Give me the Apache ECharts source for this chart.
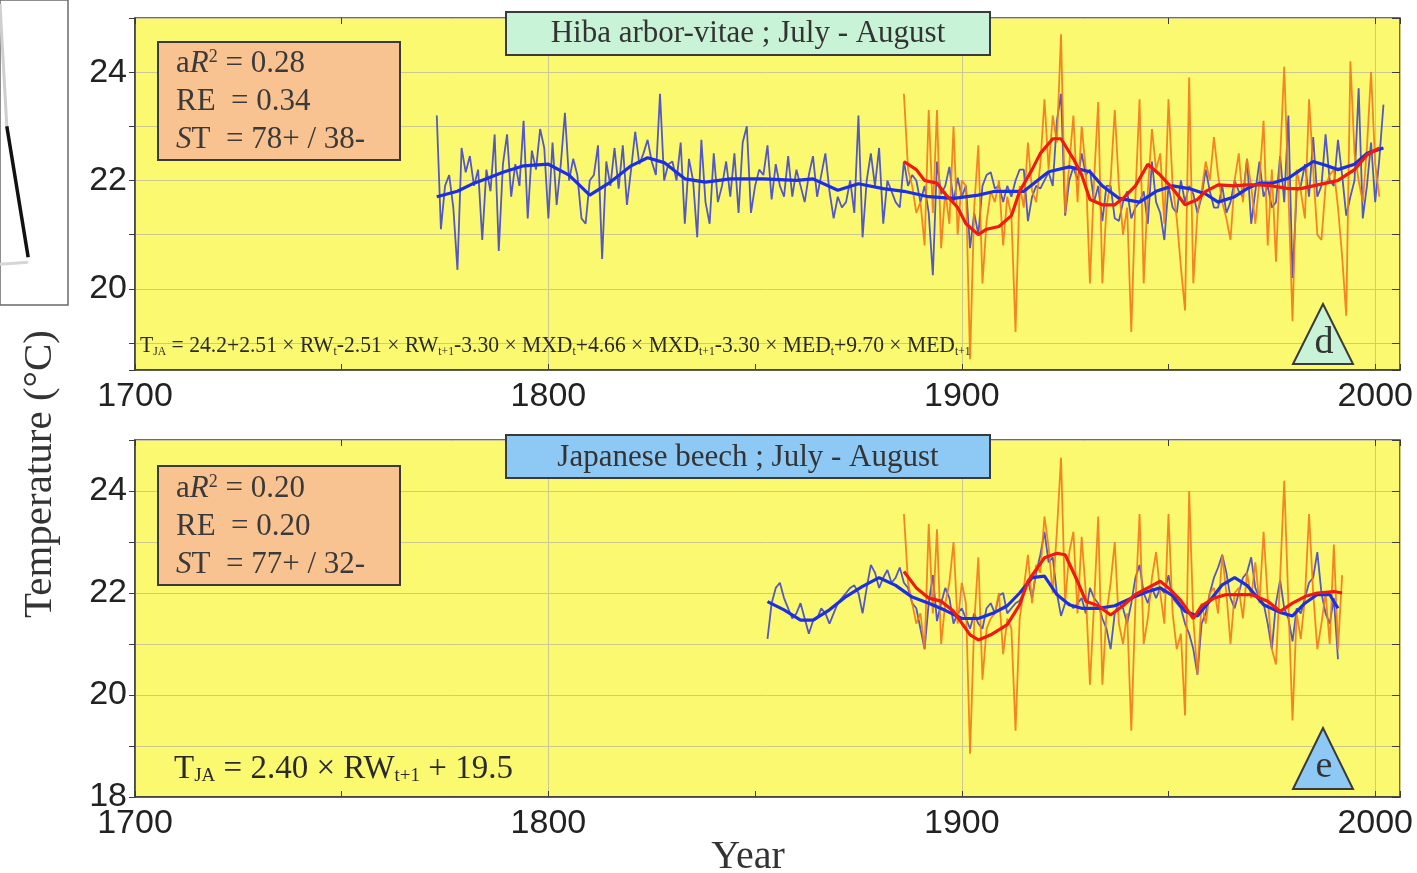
<!DOCTYPE html>
<html><head><meta charset="utf-8">
<script src="https://cdn.jsdelivr.net/npm/echarts@6/dist/echarts.min.js"></script>
<style>html,body{margin:0;padding:0;background:#fff;}#c{width:1417px;height:873px;}</style>
</head><body><div id="c"></div>
<script>
// ---------- DATA ----------
const xTickLabels = [1700, 1800, 1900, 2000];
const yTickLabelsTop = [20, 22, 24];
const yTickLabelsBottom = [18, 20, 22, 24];

// Panel d: Hiba arbor-vitae (reconstruction, annual)
const topBlueStart = 1773;
const topBlue = [
 23.2,21.1,21.9,22.1,21.5,20.35,22.6,22.15,22.45,21.9,
 22.2,20.9,22.2,21.8,22.85,20.7,22.3,22.85,21.7,22.3,
 21.9,23.1,21.3,22.55,22.2,22.95,22.6,21.3,22.7,21.55,
 22.3,23.25,22.0,22.4,22.1,21.3,21.2,22.0,22.1,22.65,
 20.55,22.35,21.9,22.6,21.85,22.65,21.55,22.2,22.9,22.3,
 22.5,22.75,22.35,22.1,23.6,22.0,22.3,22.35,22.0,22.7,
 21.2,22.4,22.0,20.95,22.75,21.6,21.2,22.5,21.6,21.9,
 22.35,21.7,22.5,21.4,22.7,23.0,21.4,21.9,22.2,22.1,
 22.65,21.65,22.3,21.9,21.7,22.45,21.7,22.2,21.9,21.6,
 22.1,22.45,21.7,22.1,22.5,21.8,21.3,21.7,21.5,21.6,
 22.0,21.4,23.2,20.95,22.0,22.5,21.9,22.6,21.2,22.0,
 21.8,21.6,21.5,22.35,21.9,22.1,22.0,21.6,21.9,21.4,
 20.25,22.35,21.75,21.9,22.25,21.6,22.05,21.7,21.9,20.75,
 21.4,21.0,21.9,22.1,22.15,21.85,21.9,21.6,21.9,21.7,
 22.0,22.2,22.2,21.25,21.7,21.9,21.85,22.0,22.15,21.9,
 23.1,23.6,21.35,22.0,22.25,22.0,22.5,22.1,22.2,21.6,
 21.9,21.25,21.9,21.9,21.3,21.25,21.6,21.8,21.3,21.5,
 21.6,21.8,21.2,22.35,21.6,21.4,20.9,21.9,21.5,21.4,
 22.0,21.6,21.9,21.75,21.4,21.7,22.2,21.8,21.5,21.5,
 21.9,21.4,21.6,22.0,21.8,21.7,22.4,21.2,21.8,22.35,
 21.7,21.9,21.5,21.6,22.45,21.6,23.2,20.2,21.8,21.9,
 22.3,21.7,22.8,21.7,21.9,22.85,22.0,21.9,22.75,22.1,
 21.35,21.7,22.0,23.7,21.3,21.9,22.7,21.6,22.4,23.4
];
// Panel d: observed July-August temperature (annual)
const topOrangeStart = 1886;
const topOrange = [
 23.6,22.2,21.9,21.4,21.6,20.8,23.3,21.4,23.3,20.75,
 21.8,21.2,23.0,21.0,22.0,21.9,18.7,21.5,22.65,20.1,
 21.25,21.8,21.6,22.0,20.8,21.7,21.35,19.2,21.9,21.5,
 22.7,21.8,21.6,22.3,23.5,22.2,23.2,22.7,24.7,21.4,
 22.3,23.2,21.6,23.0,22.2,20.1,22.0,23.45,20.1,21.5,
 22.0,23.3,21.9,21.0,21.5,19.2,21.7,23.5,20.1,21.8,
 22.95,22.2,22.5,21.2,23.5,21.9,21.3,20.4,19.6,23.9,
 20.1,21.4,21.8,22.35,22.0,22.8,22.1,21.6,21.3,20.9,
 22.0,22.5,21.6,22.4,21.9,21.2,22.0,23.1,20.8,22.2,
 20.5,22.4,24.1,21.8,19.4,22.2,21.8,21.3,23.5,22.2,
 21.0,20.9,21.9,22.1,22.2,21.5,20.6,19.5,24.2,22.5,
 22.0,21.6,22.6,24.0,22.3,21.7
];
// Panel d: smoothed curves
const topBlueSmoothYears = [1773,1778,1782,1785,1789,1794,1800,1805,1810,1815,1820,1824,1828,1833,1838,1844,1852,1860,1864,1870,1875,1881,1886,1892,1898,1904,1908,1915,1918,1921,1926,1931,1934,1938,1943,1947,1951,1955,1959,1962,1966,1969,1972,1975,1979,1982,1985,1988,1991,1995,1998,2002];
const topBlueSmooth = [21.7,21.8,21.95,22.03,22.15,22.27,22.3,22.1,21.73,21.97,22.27,22.42,22.33,22.03,21.97,22.03,22.03,22.0,22.03,21.82,21.94,21.85,21.8,21.7,21.67,21.73,21.8,21.8,21.98,22.16,22.25,22.16,21.9,21.67,21.6,21.8,21.9,21.85,21.75,21.6,21.7,21.85,21.95,21.95,22.04,22.2,22.35,22.28,22.2,22.3,22.5,22.6];
const topRedSmoothYears = [1886,1889,1891,1894,1896,1899,1901,1904,1906,1909,1912,1914,1917,1919,1922,1924,1927,1929,1931,1934,1937,1939,1942,1945,1948,1951,1954,1957,1959,1962,1966,1969,1972,1975,1979,1982,1985,1988,1991,1995,1998,2001];
const topRedSmooth = [22.35,22.2,22.0,21.95,21.75,21.5,21.2,21.0,21.1,21.15,21.35,21.8,22.2,22.5,22.77,22.77,22.4,22.1,21.65,21.55,21.55,21.67,21.9,22.3,22.1,21.85,21.55,21.65,21.8,21.92,21.9,21.92,21.92,21.9,21.85,21.85,21.9,21.95,22.0,22.2,22.47,22.6];

// Panel e: Japanese beech (reconstruction, annual)
const bottomBlueStart = 1853;
const bottomBlue = [
 21.1,21.8,22.1,22.2,21.9,21.7,21.5,21.6,21.8,21.5,
 21.2,21.45,21.5,21.7,21.6,21.4,21.6,21.8,21.9,22.0,
 22.1,22.15,22.0,21.6,22.1,22.55,22.4,22.1,22.3,22.45,
 22.2,22.3,22.5,22.2,22.1,21.8,21.7,21.3,20.9,21.8,
 22.35,21.45,21.8,22.1,21.9,21.4,21.6,21.7,21.5,21.3,
 21.6,21.4,21.3,21.7,21.8,21.6,21.95,22.0,21.6,21.7,
 21.8,21.85,22.0,22.25,21.9,22.4,22.75,23.2,22.6,22.7,
 22.0,21.55,21.8,21.8,21.7,21.8,21.9,21.6,22.1,21.9,
 21.8,21.5,21.3,20.9,21.6,21.8,21.7,21.4,21.8,22.3,
 22.55,22.0,21.8,22.1,21.9,22.1,22.0,22.35,21.9,21.8,
 21.7,21.4,21.2,20.9,20.4,21.4,21.6,22.0,22.3,22.5,
 22.75,22.4,21.9,21.7,22.0,22.3,22.4,22.7,22.1,21.9,
 21.8,21.4,20.9,21.8,22.25,21.7,21.5,21.05,21.7,21.6,
 21.9,22.2,22.3,22.8,22.0,21.6,21.4,21.9,20.7
];
// Panel e: observed (annual)
const bottomOrangeStart = 1886;
const bottomOrange = [
 23.55,22.2,21.8,21.4,21.6,20.9,23.35,21.6,23.25,21.0,
 21.8,22.2,23.0,21.4,22.2,21.8,18.85,21.4,22.7,20.3,
 21.3,21.5,21.6,22.0,20.8,21.5,21.3,19.3,21.5,22.1,
 22.75,21.8,22.55,22.4,23.5,22.9,22.0,23.2,24.65,21.8,
 22.8,23.2,21.6,23.1,22.0,20.2,21.8,23.5,20.2,21.6,
 22.2,23.0,21.4,21.0,21.6,19.3,21.8,23.55,21.0,21.5,
 22.3,22.8,22.0,21.4,23.55,21.6,20.9,21.2,19.6,24.0,
 21.5,20.4,21.8,21.4,22.0,22.1,21.6,22.75,22.0,21.0,
 22.0,22.1,21.5,22.4,21.9,22.6,21.8,23.2,21.9,20.9,
 20.6,22.3,24.2,21.8,19.5,21.6,21.1,21.9,23.55,22.0,
 20.9,21.4,22.0,21.0,22.95,20.9,22.35
];
const bottomBlueSmoothYears = [1853,1857,1861,1864,1868,1872,1876,1880,1884,1888,1892,1896,1900,1904,1908,1911,1914,1917,1920,1923,1926,1929,1933,1937,1941,1945,1948,1951,1954,1957,1960,1963,1966,1969,1973,1977,1980,1983,1986,1989,1991];
const bottomBlueSmooth = [21.83,21.67,21.47,21.47,21.67,21.93,22.13,22.3,22.15,21.92,21.8,21.66,21.5,21.5,21.62,21.75,22.0,22.3,22.33,21.97,21.77,21.7,21.7,21.75,21.9,22.03,22.1,21.95,21.64,21.55,21.85,22.16,22.3,22.15,21.77,21.62,21.55,21.8,21.97,21.97,21.7];
const bottomRedSmoothYears = [1886,1889,1892,1895,1898,1902,1904,1907,1911,1914,1916,1920,1923,1925,1928,1930,1933,1936,1939,1942,1945,1948,1950,1953,1956,1958,1961,1964,1967,1970,1974,1977,1980,1983,1986,1990,1992];
const bottomRedSmooth = [22.42,22.1,21.9,21.84,21.64,21.18,21.08,21.18,21.38,21.77,22.23,22.69,22.78,22.75,22.23,21.84,21.75,21.57,21.75,21.97,22.1,22.23,22.1,21.85,21.5,21.75,21.9,21.97,21.97,21.97,21.84,21.64,21.8,21.93,22.0,22.03,22.0];

// Cropped neighbouring panel at the far left (fragment)
const fragBlack = [[7,127],[29,259]];
const fragGreyA = [[0,4],[7,127]];
const fragGreyB = [[0,266],[29,264]];

// ---------- BUILD ----------
const annual = (start, arr) => arr.map((v, i) => [start + i, v]);
const zip = (ys, vs) => ys.map((y, i) => [y, vs[i]]);

const YELLOW = '#fbf96f', GRIDC = '#cbc98f', AX = '#3c3c3c';
const BLUE_T = '#5358c4', BLUE_S = '#1d2fe4', ORANGE = '#f2791a', RED = '#f01a12';
const SANS = 'Liberation Sans, Arial, sans-serif';
const SERIF = 'Liberation Serif, Times New Roman, serif';

const isTick = (list, v) => list.some(t => Math.abs(t - v) < 1e-9);

function xMain(gi) {
  return {
    type: 'value', gridIndex: gi, min: 1700, max: 2006, interval: 100,
    axisLine: { show: true, onZero: false, lineStyle: { color: AX, width: 1.5 } },
    axisTick: { show: true, inside: true, length: 6, lineStyle: { color: AX } },
    minorTick: { show: true, splitNumber: 2, length: 6, lineStyle: { color: AX } },
    splitLine: { show: true, lineStyle: { color: GRIDC, width: 1 } },
    axisLabel: { fontSize: 34, fontFamily: SANS, color: '#222', margin: 10,
      formatter: v => isTick(xTickLabels, v) ? String(v) : '' }
  };
}
function xTop(gi) {
  return {
    type: 'value', gridIndex: gi, position: 'top', min: 1700, max: 2006, interval: 100,
    axisLine: { show: false }, splitLine: { show: false }, axisLabel: { show: false },
    axisTick: { show: true, inside: true, length: 6, lineStyle: { color: AX } },
    minorTick: { show: true, splitNumber: 2, length: 6, lineStyle: { color: AX } }
  };
}
function yLeft(gi, min, max, labels, useInterval) {
  const o = {
    type: 'value', gridIndex: gi, min: min, max: max,
    axisLine: { show: true, onZero: false, lineStyle: { color: AX, width: 1.5 } },
    axisTick: { show: true, inside: false, length: 6, lineStyle: { color: AX } },
    splitLine: { show: true, lineStyle: { color: GRIDC, width: 1 } },
    axisLabel: { fontSize: 34, fontFamily: SANS, color: '#222', margin: 8,
      formatter: v => isTick(labels, v) ? String(v) : '' }
  };
  if (useInterval) o.interval = 1; else { o.splitNumber = 6; o.minInterval = 1; o.maxInterval = 1; }
  return o;
}
function yRight(gi, min, max, useInterval) {
  const o = {
    type: 'value', gridIndex: gi, position: 'right', min: min, max: max,
    axisLine: { show: false }, splitLine: { show: false }, axisLabel: { show: false },
    axisTick: { show: true, inside: true, length: 8, lineStyle: { color: AX } }
  };
  if (useInterval) o.interval = 1; else { o.splitNumber = 6; o.minInterval = 1; o.maxInterval = 1; }
  return o;
}

function line(xi, yi, data, color, width, z, opacity) {
  return { type: 'line', xAxisIndex: xi, yAxisIndex: yi, data: data, showSymbol: false, symbol: 'none',
    lineStyle: { color: color, width: width, opacity: opacity == null ? 1 : opacity },
    itemStyle: { color: color }, z: z, silent: true, animation: false, clip: true };
}

function box(x, y, w, h, fill) {
  return { type: 'rect', shape: { x: x, y: y, width: w, height: h }, z: 50,
    style: { fill: fill, stroke: '#3a3a3a', lineWidth: 2 } };
}
function txt(x, y, text, rich, extra) {
  return Object.assign({ type: 'text', x: x, y: y, z: 60,
    style: { text: text, rich: rich, align: 'left', verticalAlign: 'middle', fill: '#333',
      fontFamily: SERIF, fontSize: 31 } }, extra || {});
}
function ctext(x, y, text, size) {
  return { type: 'text', z: 60, x: x, y: y,
    style: { text: text, align: 'center', verticalAlign: 'middle', fill: '#333', fontFamily: SERIF, fontSize: size } };
}
const statRich = {
  n: { fontFamily: SERIF, fontSize: 31, fill: '#3a3a3a' },
  i: { fontFamily: SERIF, fontSize: 31, fontStyle: 'italic', fill: '#3a3a3a' },
  p: { fontFamily: SERIF, fontSize: 18, fill: '#3a3a3a', verticalAlign: 'top' }
};
const eqRichTop = {
  m: { fontFamily: SERIF, fontSize: 24, fill: '#2a2a2a' },
  s: { fontFamily: SERIF, fontSize: 13, fill: '#2a2a2a', verticalAlign: 'bottom' }
};
const eqRichBottom = {
  m: { fontFamily: SERIF, fontSize: 33, fill: '#2a2a2a' },
  s: { fontFamily: SERIF, fontSize: 19, fill: '#2a2a2a', verticalAlign: 'bottom' }
};

const option = {
  backgroundColor: '#ffffff',
  animation: false,
  grid: [
    { left: 135, right: 17, top: 18, height: 352, show: true, backgroundColor: YELLOW, borderColor: AX, borderWidth: 1.5 },
    { left: 135, right: 17, top: 440, height: 357, show: true, backgroundColor: YELLOW, borderColor: AX, borderWidth: 1.5 },
    { left: -2, top: -2, width: 70, height: 307, show: true, backgroundColor: '#ffffff', borderColor: '#6a6a6a', borderWidth: 1.5 }
  ],
  xAxis: [
    xMain(0), xTop(0), xMain(1), xTop(1),
    { type: 'value', gridIndex: 2, min: 0, max: 70, show: false }
  ],
  yAxis: [
    yLeft(0, 18.5, 25, yTickLabelsTop, false), yRight(0, 18.5, 25, false),
    yLeft(1, 18, 25, yTickLabelsBottom, true), yRight(1, 18, 25, true),
    { type: 'value', gridIndex: 2, min: 0, max: 307, inverse: true, show: false }
  ],
  series: [
    line(0, 0, annual(topBlueStart, topBlue), BLUE_T, 1.8, 3),
    line(0, 0, annual(topOrangeStart, topOrange), ORANGE, 1.8, 4, 0.9),
    line(0, 0, zip(topBlueSmoothYears, topBlueSmooth), BLUE_S, 3.2, 5),
    line(0, 0, zip(topRedSmoothYears, topRedSmooth), RED, 3.2, 6),
    line(2, 2, annual(bottomBlueStart, bottomBlue), BLUE_T, 1.8, 3),
    line(2, 2, annual(bottomOrangeStart, bottomOrange), ORANGE, 1.8, 4, 0.9),
    line(2, 2, zip(bottomBlueSmoothYears, bottomBlueSmooth), BLUE_S, 3.2, 5),
    line(2, 2, zip(bottomRedSmoothYears, bottomRedSmooth), RED, 3.2, 6),
    line(4, 4, fragGreyA, '#cfcfcf', 3, 3),
    line(4, 4, fragGreyB, '#d6d6d6', 3, 3),
    line(4, 4, fragBlack, '#111111', 3.5, 4)
  ],
  graphic: [
    // panel d annotations
    box(506, 12, 484, 43, '#c9f3d6'),
    ctext(748, 34, 'Hiba arbor-vitae ; July - August', 31),
    box(158, 42, 242, 118, '#f9c291'),
    txt(176, 64, '{n|a}{i|R}{p|2}{n| = 0.28}', statRich),
    txt(176, 102, '{n|RE  = 0.34}', statRich),
    txt(176, 140, '{i|S}{n|T  = 78+ / 38-}', statRich),
    txt(140, 346, '{m|T}{s|JA}{m| = 24.2+2.51 × RW}{s|t}{m|-2.51 × RW}{s|t+1}{m|-3.30 × MXD}{s|t}{m|+4.66 × MXD}{s|t+1}{m|-3.30 × MED}{s|t}{m|+9.70 × MED}{s|t+1}', eqRichTop, { scaleX: 0.9 }),
    { type: 'polygon', z: 50, shape: { points: [[1323, 304], [1293, 364], [1353, 364]] }, style: { fill: '#c9f3d6', stroke: '#3a3a3a', lineWidth: 2 } },
    ctext(1324, 343, 'd', 38),
    // panel e annotations
    box(506, 435, 484, 43, '#8ec8f4'),
    ctext(748, 458, 'Japanese beech ; July - August', 31),
    box(158, 466, 242, 119, '#f9c291'),
    txt(176, 489, '{n|a}{i|R}{p|2}{n| = 0.20}', statRich),
    txt(176, 527, '{n|RE  = 0.20}', statRich),
    txt(176, 565, '{i|S}{n|T  = 77+ / 32-}', statRich),
    txt(174, 769, '{m|T}{s|JA}{m| = 2.40 × RW}{s|t+1}{m| + 19.5}', eqRichBottom),
    { type: 'polygon', z: 50, shape: { points: [[1323, 728], [1293, 789], [1353, 789]] }, style: { fill: '#8ec8f4', stroke: '#3a3a3a', lineWidth: 2 } },
    ctext(1324, 767, 'e', 38),
    // axis titles
    { type: 'text', z: 60, x: 40, y: 474, rotation: Math.PI / 2, style: { text: 'Temperature (°C)', align: 'center', verticalAlign: 'middle', fill: '#333', fontFamily: SERIF, fontSize: 41 } },
    ctext(748, 857, 'Year', 40)
  ]
};

const chart = echarts.init(document.getElementById('c'), null, { renderer: 'canvas' });
chart.setOption(option);
</script>
</body></html>
